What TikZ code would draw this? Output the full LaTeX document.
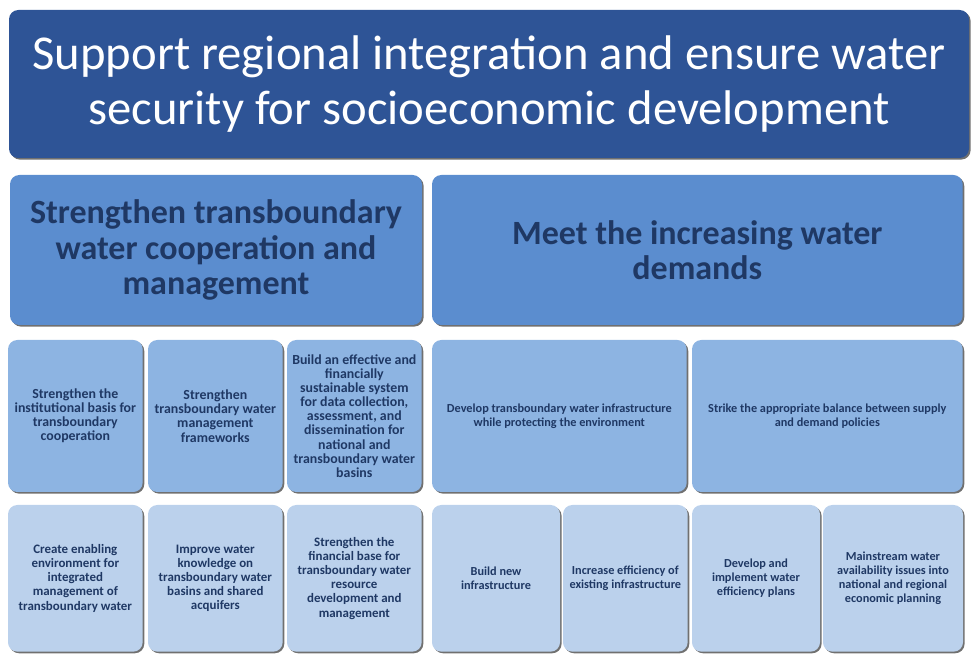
\documentclass[tikz,border=0pt]{standalone}
\usepackage{fontspec}
\setmainfont{Carlito}
\usepackage{tikz}
\usetikzlibrary{shadows}

\definecolor{topblue}{RGB}{46,84,150}
\definecolor{midblue}{RGB}{91,141,207}
\definecolor{lightblue}{RGB}{141,180,226}
\definecolor{paleblue}{RGB}{187,209,236}
\definecolor{navytext}{RGB}{31,56,100}

\begin{document}
\begin{tikzpicture}[
    x=0.75pt, y=-0.75pt,
    % rounded tiles with a dark edge bottom right
    tile/.style={
        rectangle, rounded corners=7pt, anchor=north west,
        outer sep=0pt, inner sep=2pt, align=center,
        drop shadow={shadow xshift=1.2pt, shadow yshift=-1.2pt,
                     fill=black!75, opacity=.75}
    },
    goalbox/.style={tile, fill=topblue, text=white,
        font=\fontsize{36.5}{41}\selectfont},
    aimbox/.style={tile, fill=midblue, text=navytext,
        font=\bfseries\fontsize{25.5}{26.5}\selectfont},
    actbox/.style={tile, fill=lightblue, text=navytext,
        font=\bfseries\fontsize{10.4}{10.6}\selectfont},
    actwide/.style={actbox, font=\bfseries\fontsize{9.2}{10.6}\selectfont},
    stepbox/.style={tile, fill=paleblue, text=navytext,
        font=\bfseries\fontsize{9.7}{10.6}\selectfont},
    stepnarrow/.style={stepbox, font=\bfseries\fontsize{9.2}{10.6}\selectfont}
]
\useasboundingbox (0,0) rectangle (972,655);
\clip (0,0) rectangle (972,655);

% --- Overall goal ---
\node[goalbox, minimum width=720pt, minimum height=111pt] (goal) at (9,10)
    {Support regional integration and ensure water\\security for socioeconomic development};

% --- Two main aims ---
\node[aimbox, minimum width=309pt, minimum height=112.5pt] (coop) at (10,175)
    {Strengthen transboundary\\water cooperation and\\management};
\node[aimbox, minimum width=398pt, minimum height=112.5pt] (demand) at (432,175)
    {Meet the increasing water\\demands};

% --- Actions, third row ---
\node[actbox, minimum width=101pt, minimum height=114pt] (inst) at (8,340)
    {Strengthen the\\institutional basis for\\transboundary\\cooperation};
\node[actbox, minimum width=101pt, minimum height=114pt] (frame) at (148,340)
    {Strengthen\\transboundary water\\management\\frameworks};
\node[actbox, minimum width=101pt, minimum height=114pt] (data) at (287,340)
    {Build an effective and\\financially\\sustainable system\\for data collection,\\assessment, and\\dissemination for\\national and\\transboundary water\\basins};
\node[actwide, minimum width=191pt, minimum height=114pt] (infra) at (432,340)
    {Develop transboundary water infrastructure\\while protecting the environment};
\node[actwide, minimum width=203pt, minimum height=114pt] (balance) at (692,340)
    {Strike the appropriate balance between supply\\and demand policies};

% --- Steps, bottom row ---
\node[stepbox, minimum width=101pt, minimum height=110pt] (enable) at (8,505)
    {Create enabling\\environment for\\integrated\\management of\\transboundary water};
\node[stepbox, minimum width=101pt, minimum height=110pt] (know) at (148,505)
    {Improve water\\knowledge on\\transboundary water\\basins and shared\\acquifers};
\node[stepbox, minimum width=101pt, minimum height=110pt] (finance) at (287,505)
    {Strengthen the\\financial base for\\transboundary water\\resource\\development and\\management};
\node[stepnarrow, minimum width=96pt, minimum height=110pt] (newinfra) at (432,505)
    {Build new\\infrastructure};
\node[stepnarrow, minimum width=93.5pt, minimum height=110pt] (effinfra) at (563,505)
    {Increase efficiency of\\existing infrastructure};
\node[stepnarrow, minimum width=96pt, minimum height=110pt] (plans) at (692,505)
    {Develop and\\implement water\\efficiency plans};
\node[stepnarrow, minimum width=105pt, minimum height=110pt] (mainstream) at (823,505)
    {Mainstream water\\availability issues into\\national and regional\\economic planning};

\end{tikzpicture}
\end{document}
